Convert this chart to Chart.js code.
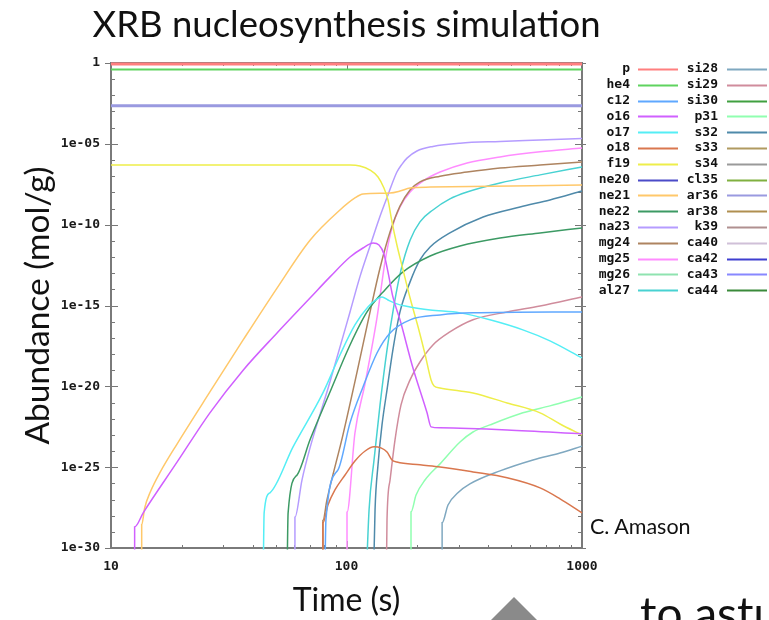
<!DOCTYPE html>
<html>
<head>
<meta charset="utf-8">
<script src="https://cdn.jsdelivr.net/npm/chart.js@4.4.1/dist/chart.umd.min.js"></script>
<style>
  html, body { margin:0; padding:0; background:#fff; }
  body { width:769px; height:620px; overflow:hidden; position:relative; }
  #c { position:absolute; left:0; top:0; }
  .txt { position:absolute; white-space:nowrap; font-family:Lato, "Open Sans", sans-serif; color:#111; line-height:1; }
  #credit { left:590px; top:516px; font-size:21.5px; }
  #tail { left:640px; top:590px; font-size:46px; }
  #tri { position:absolute; left:491px; top:597px; width:0; height:0;
         border-left:23px solid transparent; border-right:23px solid transparent; border-bottom:23px solid #8a8a8a; }
</style>
</head>
<body>
<canvas id="c" width="769" height="620"></canvas>
<div id="credit" class="txt">C. Amason</div>
<div id="tri"></div>
<div id="tail" class="txt">to astu</div>
<script>
// ---------- data (time in s, abundance in mol/g) ----------
const speciesNames = ['p','he4','c12','o16','o17','o18','f19','ne20','ne21','ne22','na23','mg24','mg25','mg26','al27',
                      'si28','si29','si30','p31','s32','s33','s34','cl35','ar36','ar38','k39','ca40','ca42','ca43','ca44'];

const xTickValues = [10, 100, 1000];
const xTickLabels = ['10', '100', '1000'];
const yTickValues = [1, 1e-5, 1e-10, 1e-15, 1e-20, 1e-25, 1e-30];
const yTickLabels = ['1', '1e-05', '1e-10', '1e-15', '1e-20', '1e-25', '1e-30'];

const series_p    = [[10,0.87],[1000,0.87]];
const series_he4  = [[10,0.40],[1000,0.40]];
const series_c12  = [[80.7,1e-33],[81.8,5.5e-29],[92.0,6.8e-26],[103.5,5.5e-23],[117.5,9.2e-21],[134.9,1.2e-18],[153.1,2.0e-17],[186.2,1.3e-16],[249.5,2.6e-16],[344.4,3.5e-16],[1000,4.0e-16]];
const series_o16  = [[12.6,1e-33],[12.6,2.0e-29],[13.7,1.5e-28],[19.1,2.1e-25],[26.3,2.3e-22],[36.4,1.0e-19],[50.7,2.0e-17],[70.0,2.9e-15],[85.1,5.9e-14],[103.5,1.0e-12],[117.5,3.6e-12],[129.7,7.4e-12],[137.4,5.5e-12],[144.2,1.55e-12],[150.0,1.2e-13],[157.4,3.4e-15],[168.7,1.3e-16],[191.4,1.4e-19],[219.8,2.3e-22],[228.6,3.1e-23],[249.5,2.7e-23],[480.8,2.0e-23],[1000,1.15e-23]];
const series_o17  = [[44.2,1e-33],[44.7,1.5e-28],[47.3,2.6e-27],[59.3,1.8e-24],[79.4,3.9e-21],[93.8,8.7e-19],[108.6,6.3e-17],[123.3,8.1e-16],[134.9,2.6e-15],[141.5,3.4e-15],[150.0,2.2e-15],[163.7,1.26e-15],[186.2,8.1e-16],[226.5,5.3e-16],[303.4,3.5e-16],[406.4,1.3e-16],[561,3.1e-17],[731,6.5e-18],[1000,5.7e-19]];
const series_o18  = [[79.4,1e-33],[79.4,3.6e-29],[83.4,4.6e-28],[89.3,3.9e-27],[98.6,3.3e-26],[108.6,2.4e-25],[120.0,1.0e-24],[130.9,1.8e-24],[140.0,1.55e-24],[148.6,8.7e-25],[156.0,2.8e-25],[163.7,2.1e-25],[205.1,1.4e-25],[249.5,1.04e-25],[344.4,5.1e-26],[480.8,2.2e-26],[663.7,5.2e-27],[806.9,1.1e-27],[1000,1.5e-28]];
const series_f19  = [[10,4.9e-7],[103.5,4.9e-7],[114.0,4.3e-7],[125.9,2.4e-7],[136.1,8.9e-8],[144.2,1.86e-8],[150.0,3.4e-9],[156.0,1.5e-10],[163.7,5.5e-12],[173.8,1.6e-13],[186.2,2.9e-15],[201.4,4.7e-17],[215.4,1.0e-18],[228.6,2.5e-20],[235.5,1.05e-20],[249.5,7.9e-21],[303.4,5.2e-21],[344.4,3.9e-21],[480.8,9.4e-22],[663.7,2.3e-22],[806.9,4.7e-23],[1000,9.8e-24]];
const series_ne20 = [];
const series_ne21 = [[13.5,1e-33],[13.5,2.7e-29],[13.9,3.0e-28],[14.7,3.0e-27],[16.2,5.1e-26],[19.1,2.8e-24],[26.3,4.5e-21],[36.4,7.4e-18],[50.7,1.2e-14],[70.0,1.1e-11],[93.8,8.1e-10],[108.6,4.5e-9],[117.5,7.9e-9],[153.1,9.1e-9],[168.7,1.2e-8],[186.2,1.86e-8],[226.5,2.1e-8],[1000,2.8e-8]];
const series_ne22 = [[55.8,1e-33],[56.5,1.5e-28],[61.7,3.3e-26],[70.0,4.9e-24],[85.1,4.5e-21],[103.5,3.6e-18],[122.2,4.0e-16],[145.6,9.2e-15],[173.8,1.2e-13],[226.5,1.15e-12],[303.4,4.8e-12],[448.7,1.5e-11],[663.7,3.1e-11],[1000,6.3e-11]];
const series_na23 = [[60.4,1e-33],[60.4,7.9e-29],[64.7,1.6e-26],[70.0,1.55e-24],[85.1,1.9e-20],[103.5,4.0e-16],[114.0,5.9e-14],[125.9,4.8e-12],[137.4,2.2e-10],[150.0,6.9e-9],[163.7,1.8e-7],[172.2,5.6e-7],[180.7,1.3e-6],[199.1,3.6e-6],[232.8,6.9e-6],[303.4,1.1e-5],[448.7,1.4e-5],[663.7,1.7e-5],[1000,2.1e-5]];
const series_mg24 = [[79.4,1e-33],[79.4,5e-29],[82.6,9.3e-28],[96.6,1.0e-23],[110.9,7.8e-20],[125.9,4.0e-16],[138.8,2.1e-13],[153.1,3.5e-11],[168.7,1.4e-9],[186.2,1.4e-8],[205.1,4.4e-8],[249.5,1.0e-7],[325.1,1.8e-7],[448.7,3.2e-7],[663.7,4.9e-7],[1000,7.6e-7]];
const series_mg25 = [[100.5,1e-33],[100.5,1.6e-28],[108.6,1.3e-23],[120.0,1.6e-20],[134.9,1.95e-16],[145.6,4.9e-13],[156.0,6.3e-11],[168.7,1.24e-9],[186.2,1.05e-8],[211.3,5.0e-8],[249.5,1.8e-7],[325.1,6.6e-7],[448.7,1.55e-6],[663.7,3.2e-6],[1000,5.5e-6]];
const series_mg26 = [];
const series_al27 = [[120.5,1e-33],[124.7,2.3e-28],[130.9,2.8e-25],[138.8,7.1e-22],[148.6,1.8e-18],[159.2,1.1e-15],[170.4,1.6e-13],[186.2,1.1e-11],[205.1,1.5e-10],[232.8,8.1e-10],[274.8,3.9e-9],[325.1,1.05e-8],[448.7,3.8e-8],[663.7,1.2e-7],[1000,3.7e-7]];
const series_si28 = [[254.7,1e-33],[254.7,3.6e-29],[269.8,4.6e-28],[297.2,2.6e-27],[334.2,9.2e-27],[448.7,5.9e-26],[619.4,2.8e-25],[806.9,7.6e-25],[1000,2.0e-24]];
const series_si29 = [[147.3,1e-33],[148.6,5.5e-29],[153.1,1.6e-26],[160.7,4.9e-24],[170.4,7.1e-22],[186.2,2.5e-20],[205.1,3.2e-19],[232.8,3.6e-18],[274.8,2.3e-17],[344.4,1.3e-16],[480.8,4.0e-16],[663.7,9.3e-16],[1000,3.4e-15]];
const series_si30 = [];
const series_p31  = [[187.9,1e-33],[187.9,1.7e-28],[197.4,1.9e-27],[215.4,1.6e-26],[249.5,1.6e-25],[303.4,3.6e-24],[344.4,1.5e-23],[406.4,4.1e-23],[561,2.3e-22],[731,6.2e-22],[1000,2.2e-21]];
const series_s32  = [[129.7,1e-33],[132.2,2.3e-28],[136.1,1.4e-25],[141.5,4.1e-23],[148.6,6.0e-21],[157.4,1.8e-18],[168.7,4.0e-16],[186.2,2.9e-14],[205.1,6.6e-13],[226.5,4.2e-12],[274.8,3.1e-11],[380.2,3.0e-10],[545.8,1.24e-9],[731.1,3.4e-9],[1000,1.2e-8]];
const series_s33  = [];
const series_s34  = [];
const series_cl35 = [];
const series_ar36 = [[10,2.3e-3],[1000,2.3e-3]];
const series_ar38 = [];
const series_k39  = [];
const series_ca40 = [];
const series_ca42 = [];
const series_ca43 = [];
const series_ca44 = [];

// ---------- styles ----------
const seriesMap = {p:series_p, he4:series_he4, c12:series_c12, o16:series_o16, o17:series_o17, o18:series_o18, f19:series_f19,
  ne20:series_ne20, ne21:series_ne21, ne22:series_ne22, na23:series_na23, mg24:series_mg24, mg25:series_mg25, mg26:series_mg26,
  al27:series_al27, si28:series_si28, si29:series_si29, si30:series_si30, p31:series_p31, s32:series_s32, s33:series_s33,
  s34:series_s34, cl35:series_cl35, ar36:series_ar36, ar38:series_ar38, k39:series_k39, ca40:series_ca40, ca42:series_ca42,
  ca43:series_ca43, ca44:series_ca44};

const colorMap = {p:'#ff7f7f', he4:'#5fd35f', c12:'#5fa8ff', o16:'#d060ff', o17:'#55eef5', o18:'#d9774e', f19:'#eeee4a',
  ne20:'#4b4bc8', ne21:'#ffc86a', ne22:'#3c9a64', na23:'#b59cff', mg24:'#ae8460', mg25:'#ff8cff', mg26:'#8fe3b0',
  al27:'#48d2d2', si28:'#7fa8c0', si29:'#d08c9c', si30:'#40a040', p31:'#90ffb0', s32:'#4f8aaa', s33:'#b09a60',
  s34:'#9a9a9a', cl35:'#80b040', ar36:'#9a9ae0', ar38:'#b08f50', k39:'#b09090', ca40:'#d0c0d8', ca42:'#3f3fd0',
  ca43:'#8888ff', ca44:'#3a8a3a'};
const widthMap = {p:3, he4:2, ar36:3};

const datasets = speciesNames.map(name => ({
  label: name,
  data: seriesMap[name].map(([x, y]) => ({x, y})),
  borderColor: colorMap[name],
  backgroundColor: colorMap[name],
  borderWidth: widthMap[name] || 1.5,
  pointRadius: 0,
  fill: false,
  cubicInterpolationMode: 'monotone',
  clip: 1.5
}));

function labelFor(values, labels, v) {
  const i = values.findIndex(t => Math.abs(Math.log10(t) - Math.log10(v)) < 1e-6);
  return i >= 0 ? labels[i] : '';
}

const framePlugin = {
  id: 'frame',
  beforeDatasetsDraw(chart) {
    const {ctx, chartArea: a, scales: {x, y}} = chart;
    ctx.save();
    ctx.strokeStyle = '#777';
    ctx.lineWidth = 1;
    ctx.beginPath();
    for (let e = 0; e >= -30; e--) {
      const py = Math.round(y.getPixelForValue(Math.pow(10, e))) + 0.5;
      const major = e % 5 === 0;
      const L = major ? 7 : 4;
      ctx.moveTo(a.left, py); ctx.lineTo(a.left + L, py);
      ctx.moveTo(a.right, py); ctx.lineTo(a.right - L, py);
      if (major) { ctx.moveTo(a.left - 6, py); ctx.lineTo(a.left, py); ctx.moveTo(a.right, py); ctx.lineTo(a.right + 4, py); }
    }
    for (let d = 10; d <= 1000; d *= 10) {
      for (let m = 1; m < 10; m++) {
        const v = d * m;
        if (v > 1000) break;
        const px = Math.round(x.getPixelForValue(v)) + 0.5;
        const L = m === 1 ? 7 : 3;
        ctx.moveTo(px, a.bottom); ctx.lineTo(px, a.bottom - L);
        ctx.moveTo(px, a.top); ctx.lineTo(px, a.top + L);
      }
    }
    ctx.stroke();
    ctx.lineWidth = 2;
    ctx.strokeStyle = '#7a7a7a';
    ctx.strokeRect(a.left, a.top, a.right - a.left, a.bottom - a.top);
    ctx.restore();
  },
  afterDraw(chart) {
    const ctx = chart.ctx;
    ctx.save();
    ctx.font = 'bold 13px "DejaVu Sans Mono", monospace';
    ctx.textAlign = 'right';
    ctx.textBaseline = 'middle';
    chart.data.datasets.forEach((ds, i) => {
      const col = Math.floor(i / 15), row = i % 15;
      const yy = 69 + row * 15.8;
      const tx = col ? 718 : 630;
      const lx = col ? 727 : 638;
      ctx.fillStyle = '#111';
      ctx.fillText(ds.label, tx, yy);
      ctx.strokeStyle = ds.borderColor;
      ctx.lineWidth = 2;
      ctx.beginPath();
      ctx.moveTo(lx, Math.round(yy) + 0.5);
      ctx.lineTo(lx + 40, Math.round(yy) + 0.5);
      ctx.stroke();
    });
    ctx.restore();
  }
};

new Chart(document.getElementById('c'), {
  type: 'line',
  data: { datasets },
  plugins: [framePlugin],
  options: {
    responsive: false,
    animation: false,
    layout: { padding: { left: 0, right: 76, top: 0, bottom: 0 } },
    plugins: {
      legend: { display: false },
      tooltip: { enabled: false },
      title: {
        display: true, fullSize: true,
        text: 'XRB nucleosynthesis simulation',
        color: '#111',
        font: { family: 'Lato', size: 36.5, weight: 'normal' },
        padding: { top: 3, bottom: 16.2 }
      }
    },
    scales: {
      x: {
        type: 'logarithmic', position: 'bottom', min: 10, max: 1000,
        afterBuildTicks: s => { s.ticks = xTickValues.map(v => ({value: v})); },
        afterFit: s => { s.height = 72; },
        grid: { display: false, drawTicks: false },
        border: { display: false },
        ticks: {
          autoSkip: false, maxRotation: 0, padding: 11, color: '#1a1a1a',
          font: { family: 'DejaVu Sans Mono', size: 13, weight: 'bold' },
          callback: v => labelFor(xTickValues, xTickLabels, v)
        },
        title: { display: true, text: 'Time (s)', color: '#111',
                 font: { family: 'Lato', size: 32, weight: 'normal' }, padding: { top: 0, bottom: 0 } }
      },
      y: {
        type: 'logarithmic', position: 'left', min: 1e-30, max: 1,
        afterBuildTicks: s => { s.ticks = yTickValues.map(v => ({value: v})); },
        afterFit: s => { s.width = 111; },
        grid: { display: false, drawTicks: false },
        border: { display: false },
        ticks: {
          autoSkip: false, padding: 11, color: '#1a1a1a',
          font: { family: 'DejaVu Sans Mono', size: 13, weight: 'bold' },
          callback: v => labelFor(yTickValues, yTickLabels, v)
        },
        title: { display: true, text: 'Abundance (mol/g)', color: '#111',
                 font: { family: 'Lato', size: 33.5, weight: 'normal' }, padding: { top: 18, bottom: 0 } }
      },
      yRight: {
        type: 'linear', position: 'right', min: 0, max: 1,
        afterFit: s => { s.width = 111; },
        grid: { display: false, drawTicks: false },
        border: { display: false },
        ticks: { display: false }
      }
    }
  }
});
</script>
</body>
</html>
